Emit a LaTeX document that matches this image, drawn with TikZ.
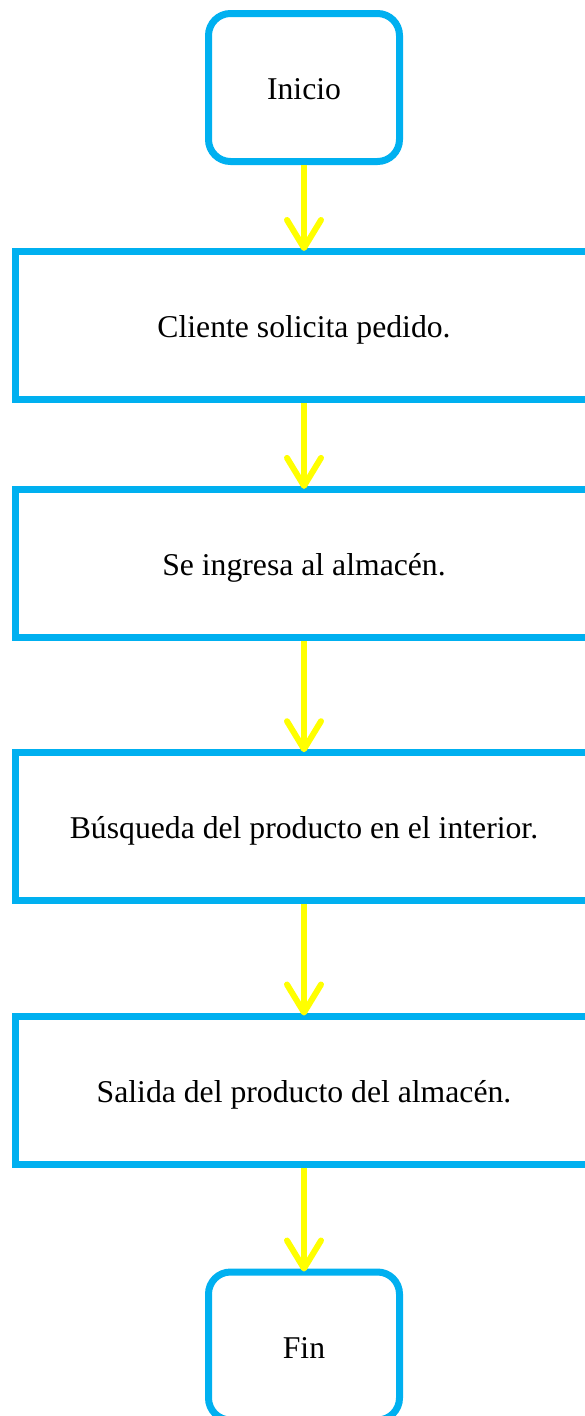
\documentclass[tikz,border=0pt]{standalone}
\usepackage{fontspec}
\setmainfont{Liberation Serif}
\usetikzlibrary{arrows.meta}
\definecolor{boxblue}{HTML}{00B0F0}
\definecolor{arrowyellow}{HTML}{FFFF00}
\begin{document}
\begin{tikzpicture}[x=1pt,y=-1pt,
  stepbox/.style={draw=boxblue, line width=7pt, minimum width=578pt, minimum height=148pt,
    inner sep=0pt, text height=24.4pt, text depth=0pt, font=\fontsize{31.7}{38}\selectfont},
  endbox/.style={stepbox, rounded corners=22pt, minimum width=191pt},
  flow/.style={draw=arrowyellow, line width=6pt,
    -{Straight Barb[length=28pt,width=34pt,round]}, shorten >=-3pt}]
\useasboundingbox (0,0) rectangle (585,1416);
\clip (0,0) rectangle (585,1416);
\fill[white] (0,0) rectangle (585,1416);
\node[endbox] (inicio) at (304,87.5) {Inicio};
\node[stepbox] (b1) at (304,325.5) {Cliente solicita pedido.};
\node[stepbox] (b2) at (304,563.4) {Se ingresa al almacén.};
\node[stepbox] (b3) at (304,826.7) {Búsqueda del producto en el interior.};
\node[stepbox] (b4) at (304,1090) {Salida del producto del almacén.};
\node[endbox] (fin) at (304,1346) {Fin};
\draw[flow] (inicio.south) -- (b1.north);
\draw[flow] (b1.south) -- (b2.north);
\draw[flow] (b2.south) -- (b3.north);
\draw[flow] (b3.south) -- (b4.north);
\draw[flow] (b4.south) -- (fin.north);
\end{tikzpicture}
\end{document}
